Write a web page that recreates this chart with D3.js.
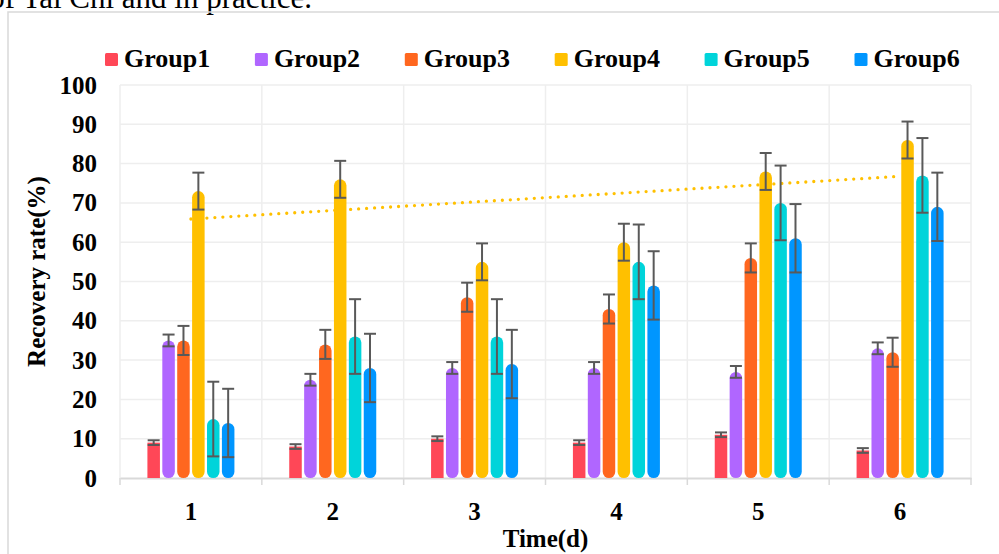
<!DOCTYPE html>
<html><head><meta charset="utf-8">
<script src="https://cdn.jsdelivr.net/npm/d3@7"></script>
<style>body{margin:0;background:#fff;overflow:hidden}svg{display:block}</style>
</head><body>
<svg id="chart" width="999" height="554"></svg>
<script>
// ---- data ----
const days = ["1", "2", "3", "4", "5", "6"];
const groupNames = ["Group1", "Group2", "Group3", "Group4", "Group5", "Group6"];
const group1 = [9, 8, 10, 9, 11, 7];
const group2 = [35, 25, 28, 28, 27, 33];
const group3 = [35, 34, 46, 43, 56, 32];
const group4 = [73, 76, 55, 60, 78, 86];
const group5 = [15, 36, 36, 55, 70, 77];
const group6 = [14, 28, 29, 49, 61, 69];
const groupErrors = [0.6, 1.5, 3.7, 4.7, 9.5, 8.7];
const yTickValues = [0, 10, 20, 30, 40, 50, 60, 70, 80, 90, 100];
const groupColors = ["#FF4757", "#B066FF", "#FF671F", "#FFC000", "#00D4DA", "#0096FF"];
const captionText = "of Tai Chi and in practice.";
const xTitle = "Time(d)";
const yTitle = "Recovery rate(%)";

const series = [group1, group2, group3, group4, group5, group6];

// ---- layout ----
const svg = d3.select("#chart");
const L = 120, R = 971, T = 85, B = 478;
const serif = "'Liberation Serif','Times New Roman',serif";

// caption fragment at top (cropped)
svg.append("text").attr("x", 312).attr("y", 8).attr("text-anchor", "end")
  .attr("font-family", serif).attr("font-size", 31).attr("fill", "#000").text(captionText);

// outer chart border
svg.append("rect").attr("x", 8).attr("y", 12).attr("width", 1200).attr("height", 700)
  .attr("fill", "none").attr("stroke", "#d9d9d9").attr("stroke-width", 1.5);

const x0 = d3.scaleBand().domain(days).range([L, R]).paddingInner(0).paddingOuter(0);
const x1 = d3.scaleBand().domain(groupNames).range([0, x0.bandwidth()]).paddingInner(0.16).paddingOuter(1.84);
const y = d3.scaleLinear().domain([0, 100]).range([B, T]);

// horizontal grid
svg.append("g").selectAll("line").data(yTickValues.filter(v => v > 0)).join("line")
  .attr("x1", L).attr("x2", R).attr("y1", d => y(d)).attr("y2", d => y(d))
  .attr("stroke", "#eeeeee").attr("stroke-width", 1.5);
// vertical grid at category boundaries
const bounds = days.map(d => x0(d)).concat([R]);
svg.append("g").selectAll("line").data(bounds).join("line")
  .attr("x1", d => d).attr("x2", d => d).attr("y1", T).attr("y2", B)
  .attr("stroke", "#eeeeee").attr("stroke-width", 1.5);

// x axis
const xAxis = svg.append("g").attr("transform", `translate(0,${B})`)
  .call(d3.axisBottom(x0).tickSize(0).tickPadding(24));
xAxis.select(".domain").attr("stroke", "#d9d9d9").attr("stroke-width", 2);
xAxis.selectAll("text").attr("font-family", serif).attr("font-size", 25).attr("font-weight", "bold").attr("fill", "#000");
xAxis.selectAll(".bound").data(bounds).join("line").attr("class", "bound")
  .attr("x1", d => d).attr("x2", d => d).attr("y1", 0).attr("y2", 7)
  .attr("stroke", "#d9d9d9").attr("stroke-width", 1.5);

// y axis
const yAxis = svg.append("g").attr("transform", `translate(${L},0)`)
  .call(d3.axisLeft(y).tickValues(yTickValues).tickSize(0).tickPadding(23));
yAxis.select(".domain").remove();
yAxis.selectAll("text").attr("font-family", serif).attr("font-size", 25).attr("font-weight", "bold").attr("fill", "#000");

// bars
const barsG = svg.append("g");
series.forEach((vals, gi) => {
  const w = x1.bandwidth();
  barsG.append("g").selectAll("rect").data(vals).join("rect")
    .attr("x", (d, i) => x0(days[i]) + x1(groupNames[gi]))
    .attr("y", d => y(d))
    .attr("width", w)
    .attr("height", d => B - y(d))
    .attr("rx", gi === 0 ? 0 : w / 2)
    .attr("ry", gi === 0 ? 0 : w / 2)
    .attr("fill", groupColors[gi]);
});

// trendline for Group4 (linear least squares)
const xs = days.map((d, i) => i + 1);
const n = xs.length;
const mx = d3.mean(xs), my = d3.mean(group4);
const slope = d3.sum(xs.map((xv, i) => (xv - mx) * (group4[i] - my))) / d3.sum(xs.map(xv => (xv - mx) ** 2));
const icpt = my - slope * mx;
const cx = d => x0(d) + x0.bandwidth() / 2;
svg.append("line")
  .attr("x1", cx(days[0])).attr("y1", y(icpt + slope * 1))
  .attr("x2", cx(days[n - 1])).attr("y2", y(icpt + slope * n))
  .attr("stroke", "#FFC000").attr("stroke-width", 3.3)
  .attr("stroke-linecap", "round").attr("stroke-dasharray", "0 8");

// error bars
const errG = svg.append("g").attr("stroke", "#595959").attr("stroke-width", 2);
series.forEach((vals, gi) => {
  const w = x1.bandwidth();
  const e = groupErrors[gi];
  vals.forEach((v, i) => {
    const c = x0(days[i]) + x1(groupNames[gi]) + w / 2;
    errG.append("line").attr("x1", c).attr("x2", c).attr("y1", y(v + e)).attr("y2", y(v - e));
    errG.append("line").attr("x1", c - 6).attr("x2", c + 6).attr("y1", y(v + e)).attr("y2", y(v + e));
    errG.append("line").attr("x1", c - 6).attr("x2", c + 6).attr("y1", y(v - e)).attr("y2", y(v - e));
  });
});

// axis titles
svg.append("text").attr("x", (L + R) / 2).attr("y", 547).attr("text-anchor", "middle")
  .attr("font-family", serif).attr("font-size", 25).attr("font-weight", "bold").text(xTitle);
svg.append("text").attr("transform", `translate(45,${(T + B) / 2 - 10}) rotate(-90)`).attr("text-anchor", "middle")
  .attr("font-family", serif).attr("font-size", 25).attr("font-weight", "bold").text(yTitle);

// legend
const legend = svg.append("g").selectAll("g").data(groupNames).join("g")
  .attr("transform", (d, i) => `translate(${105 + i * 149.9},0)`);
legend.append("rect").attr("x", 0).attr("y", 53).attr("width", 13).attr("height", 13).attr("rx", 1.5)
  .attr("fill", (d, i) => groupColors[i]);
legend.append("text").attr("x", 19).attr("y", 67).attr("font-family", serif).attr("font-size", 26)
  .attr("font-weight", "bold").attr("fill", "#000").text(d => d);
</script>
</body></html>
